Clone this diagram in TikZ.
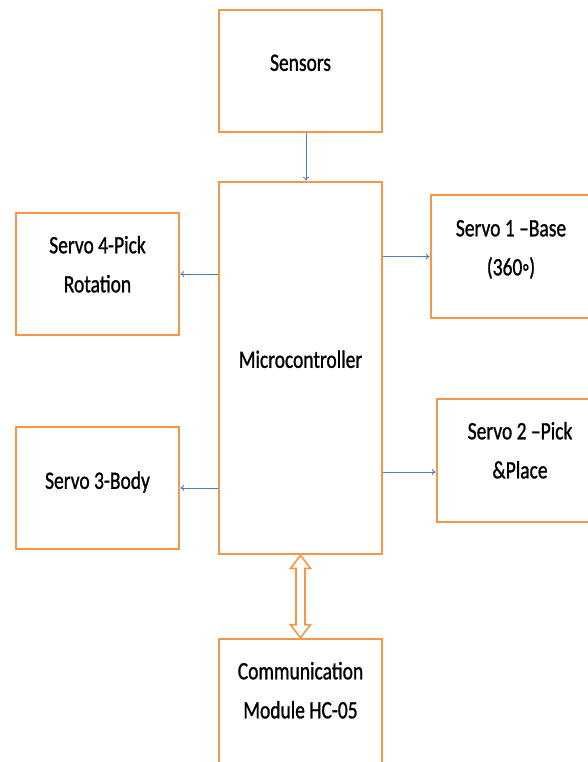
\documentclass[tikz,border=0pt]{standalone}
\usepackage{fontspec}
\setmainfont{Carlito}
\newfontfamily\heavyfont[FakeBold=1.2]{Carlito}
\usetikzlibrary{arrows.meta,calc}
\definecolor{boxorange}{HTML}{F79646}
\definecolor{arrblue}{HTML}{4A7EBB}
\newcommand{\tallbox}[1]{\scalebox{1}[1.28]{\begin{tabular}{@{}c@{}}#1\end{tabular}}}
\tikzset{
  box/.style={draw=boxorange, line width=2.6pt, fill=white, rectangle, inner sep=0pt},
  lbl/.style={font=\heavyfont\fontsize{19.5}{30.5}\selectfont, align=center, text=black, inner sep=0pt},
  conn/.style={draw=arrblue, line width=0.9pt, -{To[length=4pt,width=6pt]}},
  dbl/.style={draw=boxorange, line width=1.6pt, fill=white, line join=miter}
}
\begin{document}
\begin{tikzpicture}[x=1pt,y=-1pt]
\useasboundingbox (0,0) rectangle (588,762);
\clip (0,0) rectangle (588,762);
\node[box, minimum width=163pt, minimum height=122pt] (sens) at (300.5,71) {};
\node[box, minimum width=163pt, minimum height=372pt] (micro) at (300.5,368) {};
\node[box, minimum width=163pt, minimum height=122pt] (s4) at (97.5,274) {};
\node[box, minimum width=163pt, minimum height=122pt] (s3) at (97.5,488) {};
\node[box, minimum width=164pt, minimum height=123pt] (s1) at (513,256.5) {};
\node[box, minimum width=168pt, minimum height=123pt] (s2) at (521,460.5) {};
\node[box, minimum width=163pt, minimum height=131pt] (comm) at (300.5,704.5) {};

\node[lbl] at ([yshift=8pt]sens.center) {\tallbox{Sensors}};
\node[lbl] at ([yshift=8pt]micro.center) {\tallbox{Microcontroller}};
\node[lbl] at ([yshift=9pt]s4.center) {\tallbox{Servo 4-Pick\\Rotation}};
\node[lbl] at ([yshift=7pt]s3.center) {\tallbox{Servo 3-Body}};
\node[lbl] at ([xshift=-2pt,yshift=8.5pt]s1.center) {\tallbox{Servo 1 –Base\\(360◦)}};
\node[lbl] at ([xshift=-1pt,yshift=9.5pt]s2.center) {\tallbox{Servo 2 –Pick\\\&Place}};
\node[lbl] at ([yshift=13.5pt]comm.center) {\tallbox{Communication\\Module HC-05}};

\draw[conn] ([xshift=5.5pt]sens.south) -- ([xshift=5.5pt]micro.north);
\draw[conn] (micro.west |- s4.east) -- (s4.east);
\draw[conn] (micro.west |- s3.east) -- (s3.east);
\draw[conn] (micro.east |- s1.west) -- (s1.west);
\coordinate (s2in) at ([yshift=-11.5pt]s2.west);
\draw[conn] (micro.east |- s2in) -- (s2in);

\draw[dbl] (micro.south)
  -- ($(micro.south)+(10,13)$) -- ($(micro.south)+(4.5,13)$)
  -- ($(comm.north)+(4.5,-13)$) -- ($(comm.north)+(10,-13)$)
  -- (comm.north)
  -- ($(comm.north)+(-10,-13)$) -- ($(comm.north)+(-4.5,-13)$)
  -- ($(micro.south)+(-4.5,13)$) -- ($(micro.south)+(-10,13)$)
  -- cycle;
\end{tikzpicture}
\end{document}
